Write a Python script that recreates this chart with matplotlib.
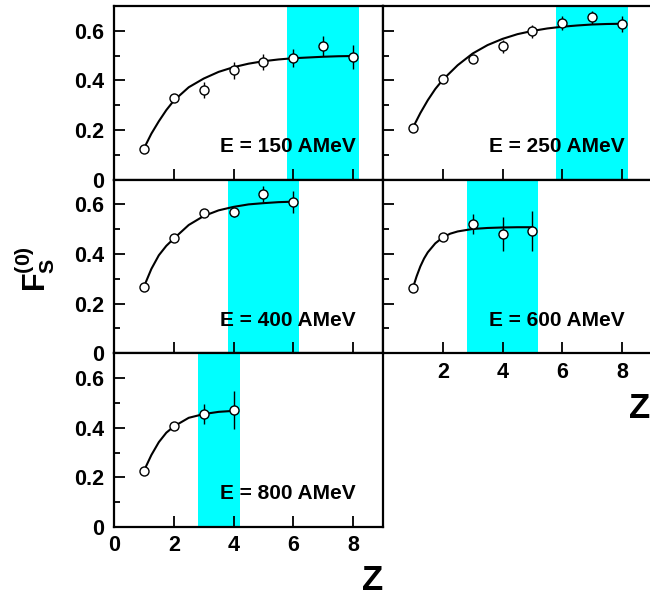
import numpy as np
import matplotlib
matplotlib.use("Agg")
import matplotlib.pyplot as plt

plt.rcParams['font.family'] = ['Liberation Sans', 'DejaVu Sans']
plt.rcParams['font.weight'] = 'bold'
plt.rcParams['mathtext.fontset'] = 'custom'
plt.rcParams['mathtext.bf'] = 'Liberation Sans:bold'
plt.rcParams['mathtext.rm'] = 'Liberation Sans:bold'

# energies shown in the panels
energies = [150, 250, 400, 600, 800]

# measured points (Z, F_S^(0), error)
z_150 = [1, 2, 3, 4, 5, 6, 7, 8]
f_150 = [0.125, 0.327, 0.36, 0.44, 0.475, 0.49, 0.538, 0.495]
e_150 = [0.0, 0.0, 0.033, 0.035, 0.033, 0.037, 0.04, 0.048]

z_250 = [1, 2, 3, 4, 5, 6, 7, 8]
f_250 = [0.209, 0.405, 0.486, 0.537, 0.597, 0.631, 0.654, 0.628]
e_250 = [0.0, 0.0, 0.0, 0.025, 0.027, 0.03, 0.026, 0.032]

z_400 = [1, 2, 3, 4, 5, 6]
f_400 = [0.268, 0.463, 0.567, 0.57, 0.643, 0.609]
e_400 = [0.0, 0.0, 0.0, 0.02, 0.033, 0.045]

z_600 = [1, 2, 3, 4, 5]
f_600 = [0.263, 0.467, 0.521, 0.481, 0.494]
e_600 = [0.0, 0.0, 0.04, 0.07, 0.08]

z_800 = [1, 2, 3, 4]
f_800 = [0.226, 0.405, 0.455, 0.47]
e_800 = [0.0, 0.0, 0.04, 0.077]

# fitted curves
cz_150 = [1, 1.25, 1.5, 1.75, 2, 2.5, 3, 3.5, 4, 4.5, 5, 5.5, 6, 6.5, 7, 7.5, 8]
cf_150 = [0.125, 0.185, 0.235, 0.28, 0.318, 0.372, 0.407, 0.434, 0.453, 0.467, 0.477, 0.484, 0.489, 0.492, 0.495, 0.497, 0.498]

cz_250 = [1, 1.25, 1.5, 1.75, 2, 2.5, 3, 3.5, 4, 4.5, 5, 5.5, 6, 6.5, 7, 7.5, 8]
cf_250 = [0.209, 0.268, 0.32, 0.365, 0.402, 0.461, 0.508, 0.542, 0.567, 0.586, 0.599, 0.609, 0.616, 0.621, 0.625, 0.627, 0.628]

cz_400 = [1, 1.25, 1.5, 1.75, 2, 2.5, 3, 3.5, 4, 4.5, 5, 5.5, 6]
cf_400 = [0.268, 0.34, 0.395, 0.433, 0.462, 0.517, 0.553, 0.576, 0.59, 0.6, 0.605, 0.609, 0.611]

cz_600 = [1, 1.125, 1.25, 1.375, 1.5, 1.75, 2, 2.25, 2.5, 3, 3.5, 4, 4.5, 5]
cf_600 = [0.263, 0.31, 0.35, 0.382, 0.407, 0.443, 0.467, 0.482, 0.491, 0.501, 0.505, 0.507, 0.508, 0.508]

cz_800 = [1, 1.25, 1.5, 1.75, 2, 2.5, 3, 3.5, 4]
cf_800 = [0.226, 0.29, 0.342, 0.38, 0.405, 0.44, 0.455, 0.464, 0.468]

# shaded Z windows
bands = [(5.8, 8.2), (5.8, 8.2), (3.8, 6.2), (2.8, 5.2), (2.8, 4.2)]

points = [(z_150, f_150, e_150), (z_250, f_250, e_250), (z_400, f_400, e_400),
          (z_600, f_600, e_600), (z_800, f_800, e_800)]
curves = [(cz_150, cf_150), (cz_250, cf_250), (cz_400, cf_400),
          (cz_600, cf_600), (cz_800, cf_800)]

fig = plt.figure(figsize=(6.5, 5.99), dpi=100)

x_left, x_right, w = 0.1754, 0.5892, 0.4138
h = 0.29
rows = [0.7002, 0.4102, 0.1202]
positions = [(x_left, rows[0]), (x_right, rows[0]), (x_left, rows[1]),
             (x_right, rows[1]), (x_left, rows[2])]

for i, (x0, y0) in enumerate(positions):
    ax = fig.add_axes([x0, y0, w, h])
    ax.axvspan(bands[i][0], bands[i][1], color='#00ffff', lw=0, zorder=0)
    z, f, e = points[i]
    cz, cf = curves[i]
    ax.plot(cz, cf, color='black', lw=1.5, zorder=2)
    ax.errorbar(z, f, yerr=e, fmt='o', ms=6.5, mfc='white', mec='black',
                mew=1.0, ecolor='black', elinewidth=1.0, capsize=0, zorder=3)
    ax.text(8.1, 0.133, f'E = {energies[i]} AMeV', ha='right', va='center',
            fontsize=15, fontweight='bold', zorder=4)
    ax.set_xlim(0, 9)
    ax.set_ylim(0, 0.7)
    ax.set_xticks([2, 4, 6, 8] if i != 4 else [0, 2, 4, 6, 8])
    ax.set_yticks([0, 0.2, 0.4, 0.6])
    ax.set_yticks([0.1, 0.3, 0.5], minor=True)
    ax.tick_params(which='both', direction='in', width=1.3, labelsize=15.5)
    ax.tick_params(axis='x', pad=6)
    ax.tick_params(axis='y', pad=7)
    ax.tick_params(which='major', length=8)
    ax.tick_params(which='minor', length=4)
    for s in ax.spines.values():
        s.set_linewidth(1.6)
    if x0 == x_left:
        ax.set_yticklabels(['0', '0.2', '0.4', '0.6'])
    else:
        ax.set_yticklabels([])
    if i == 4:
        ax.set_xticklabels(['0', '2', '4', '6', '8'])
    elif i == 3:
        ax.set_xticklabels(['2', '4', '6', '8'])
    else:
        ax.set_xticklabels([])

fig.text(0.054, 1 - 269 / 599, r'$\mathbf{F}_\mathbf{S}^\mathbf{(0)}$', rotation=90,
         ha='center', va='center', fontsize=22)
fig.text(373 / 650, 1 - 581 / 599, 'Z', ha='center', va='center', fontsize=25, fontweight='bold')
fig.text(640 / 650, 1 - 409 / 599, 'Z', ha='center', va='center', fontsize=25, fontweight='bold')

fig.savefig('out.png', dpi=100)
